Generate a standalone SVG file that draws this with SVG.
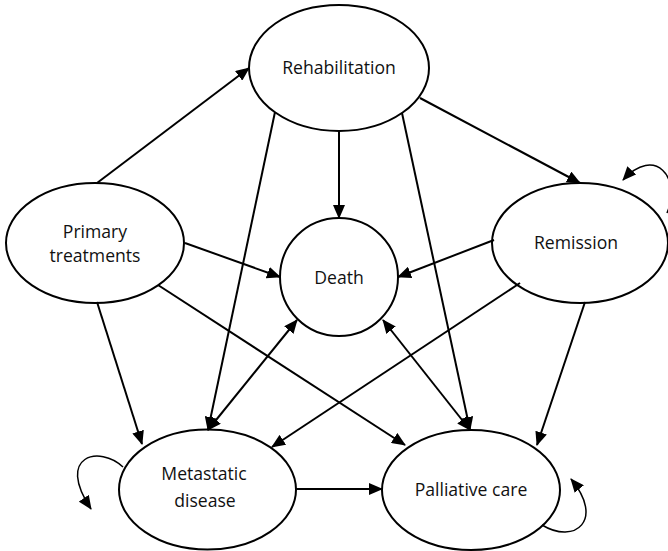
<svg xmlns="http://www.w3.org/2000/svg" width="668" height="551" viewBox="0 0 668 551">
<style>
.node{fill:#fff;stroke:#000;stroke-width:2}
.lbl{font-family:"Open Sans","Liberation Sans",sans-serif;font-size:17.6px;fill:#111;text-anchor:middle}
.e{stroke:#000;stroke-width:2;fill:none}
</style>
<defs>
<marker id="ah" markerUnits="userSpaceOnUse" markerWidth="14" markerHeight="12" refX="13" refY="6" orient="auto">
<path d="M0,0 L14,6 L0,12 Z" fill="#000"/>
</marker>
<marker id="as" markerUnits="userSpaceOnUse" markerWidth="14" markerHeight="12" refX="1" refY="6" orient="auto">
<path d="M14,0 L0,6 L14,12 Z" fill="#000"/>
</marker>
</defs>
<rect width="668" height="551" fill="#fff"/>
<g id="rehabilitation"><ellipse class="node" cx="339" cy="68" rx="90" ry="63"/><text class="lbl" x="339" y="74">Rehabilitation</text></g>
<g id="primary"><ellipse class="node" cx="95" cy="243" rx="89" ry="60"/><text class="lbl" x="95" y="238">Primary</text><text class="lbl" x="95" y="262">treatments</text></g>
<g id="death"><circle class="node" cx="339" cy="277" r="59"/><text class="lbl" x="339" y="284">Death</text></g>
<g id="remission"><ellipse class="node" cx="580" cy="243" rx="88" ry="60"/><text class="lbl" x="576" y="249">Remission</text></g>
<g id="metastatic"><ellipse class="node" cx="207.5" cy="489.5" rx="88.5" ry="60"/><text class="lbl" x="204" y="480">Metastatic</text><text class="lbl" x="205" y="507">disease</text></g>
<g id="palliative"><ellipse class="node" cx="471" cy="490" rx="89" ry="60"/><text class="lbl" x="471" y="496">Palliative care</text></g>
<g id="connectors">
<line class="e" x1="97" y1="183" x2="249" y2="68" marker-end="url(#ah)"/>
<line class="e" x1="420" y1="98" x2="580" y2="183" marker-end="url(#ah)"/>
<line class="e" x1="339" y1="131" x2="339" y2="218" marker-end="url(#ah)"/>
<line class="e" x1="275" y1="112" x2="208" y2="430" marker-end="url(#ah)"/>
<line class="e" x1="402" y1="113" x2="470" y2="430" marker-end="url(#ah)"/>
<line class="e" x1="185" y1="243" x2="280" y2="277" marker-end="url(#ah)"/>
<line class="e" x1="494" y1="240" x2="398" y2="277" marker-end="url(#ah)"/>
<line class="e" x1="97" y1="302" x2="142" y2="444" marker-end="url(#ah)"/>
<line class="e" x1="158" y1="285" x2="405" y2="445" marker-end="url(#ah)"/>
<line class="e" x1="520" y1="283" x2="272" y2="447" marker-end="url(#ah)"/>
<line class="e" x1="585" y1="302" x2="537" y2="445" marker-end="url(#ah)"/>
<line class="e" x1="297" y1="320" x2="208" y2="430" marker-start="url(#as)" marker-end="url(#ah)"/>
<line class="e" x1="383" y1="320" x2="470" y2="430" marker-start="url(#as)" marker-end="url(#ah)"/>
<line class="e" x1="296" y1="489" x2="382" y2="489" marker-end="url(#ah)"/>
<path class="e" style="stroke-width:1.5" d="M667,213 C682,178 655,145 623,180" marker-end="url(#ah)"/>
<path class="e" style="stroke-width:1.5" d="M123,467 C100,445 55,455 91,509" marker-end="url(#ah)"/>
<path class="e" style="stroke-width:1.5" d="M542,525 C575,545 605,520 571,479" marker-end="url(#ah)"/>
</g>
</svg>
